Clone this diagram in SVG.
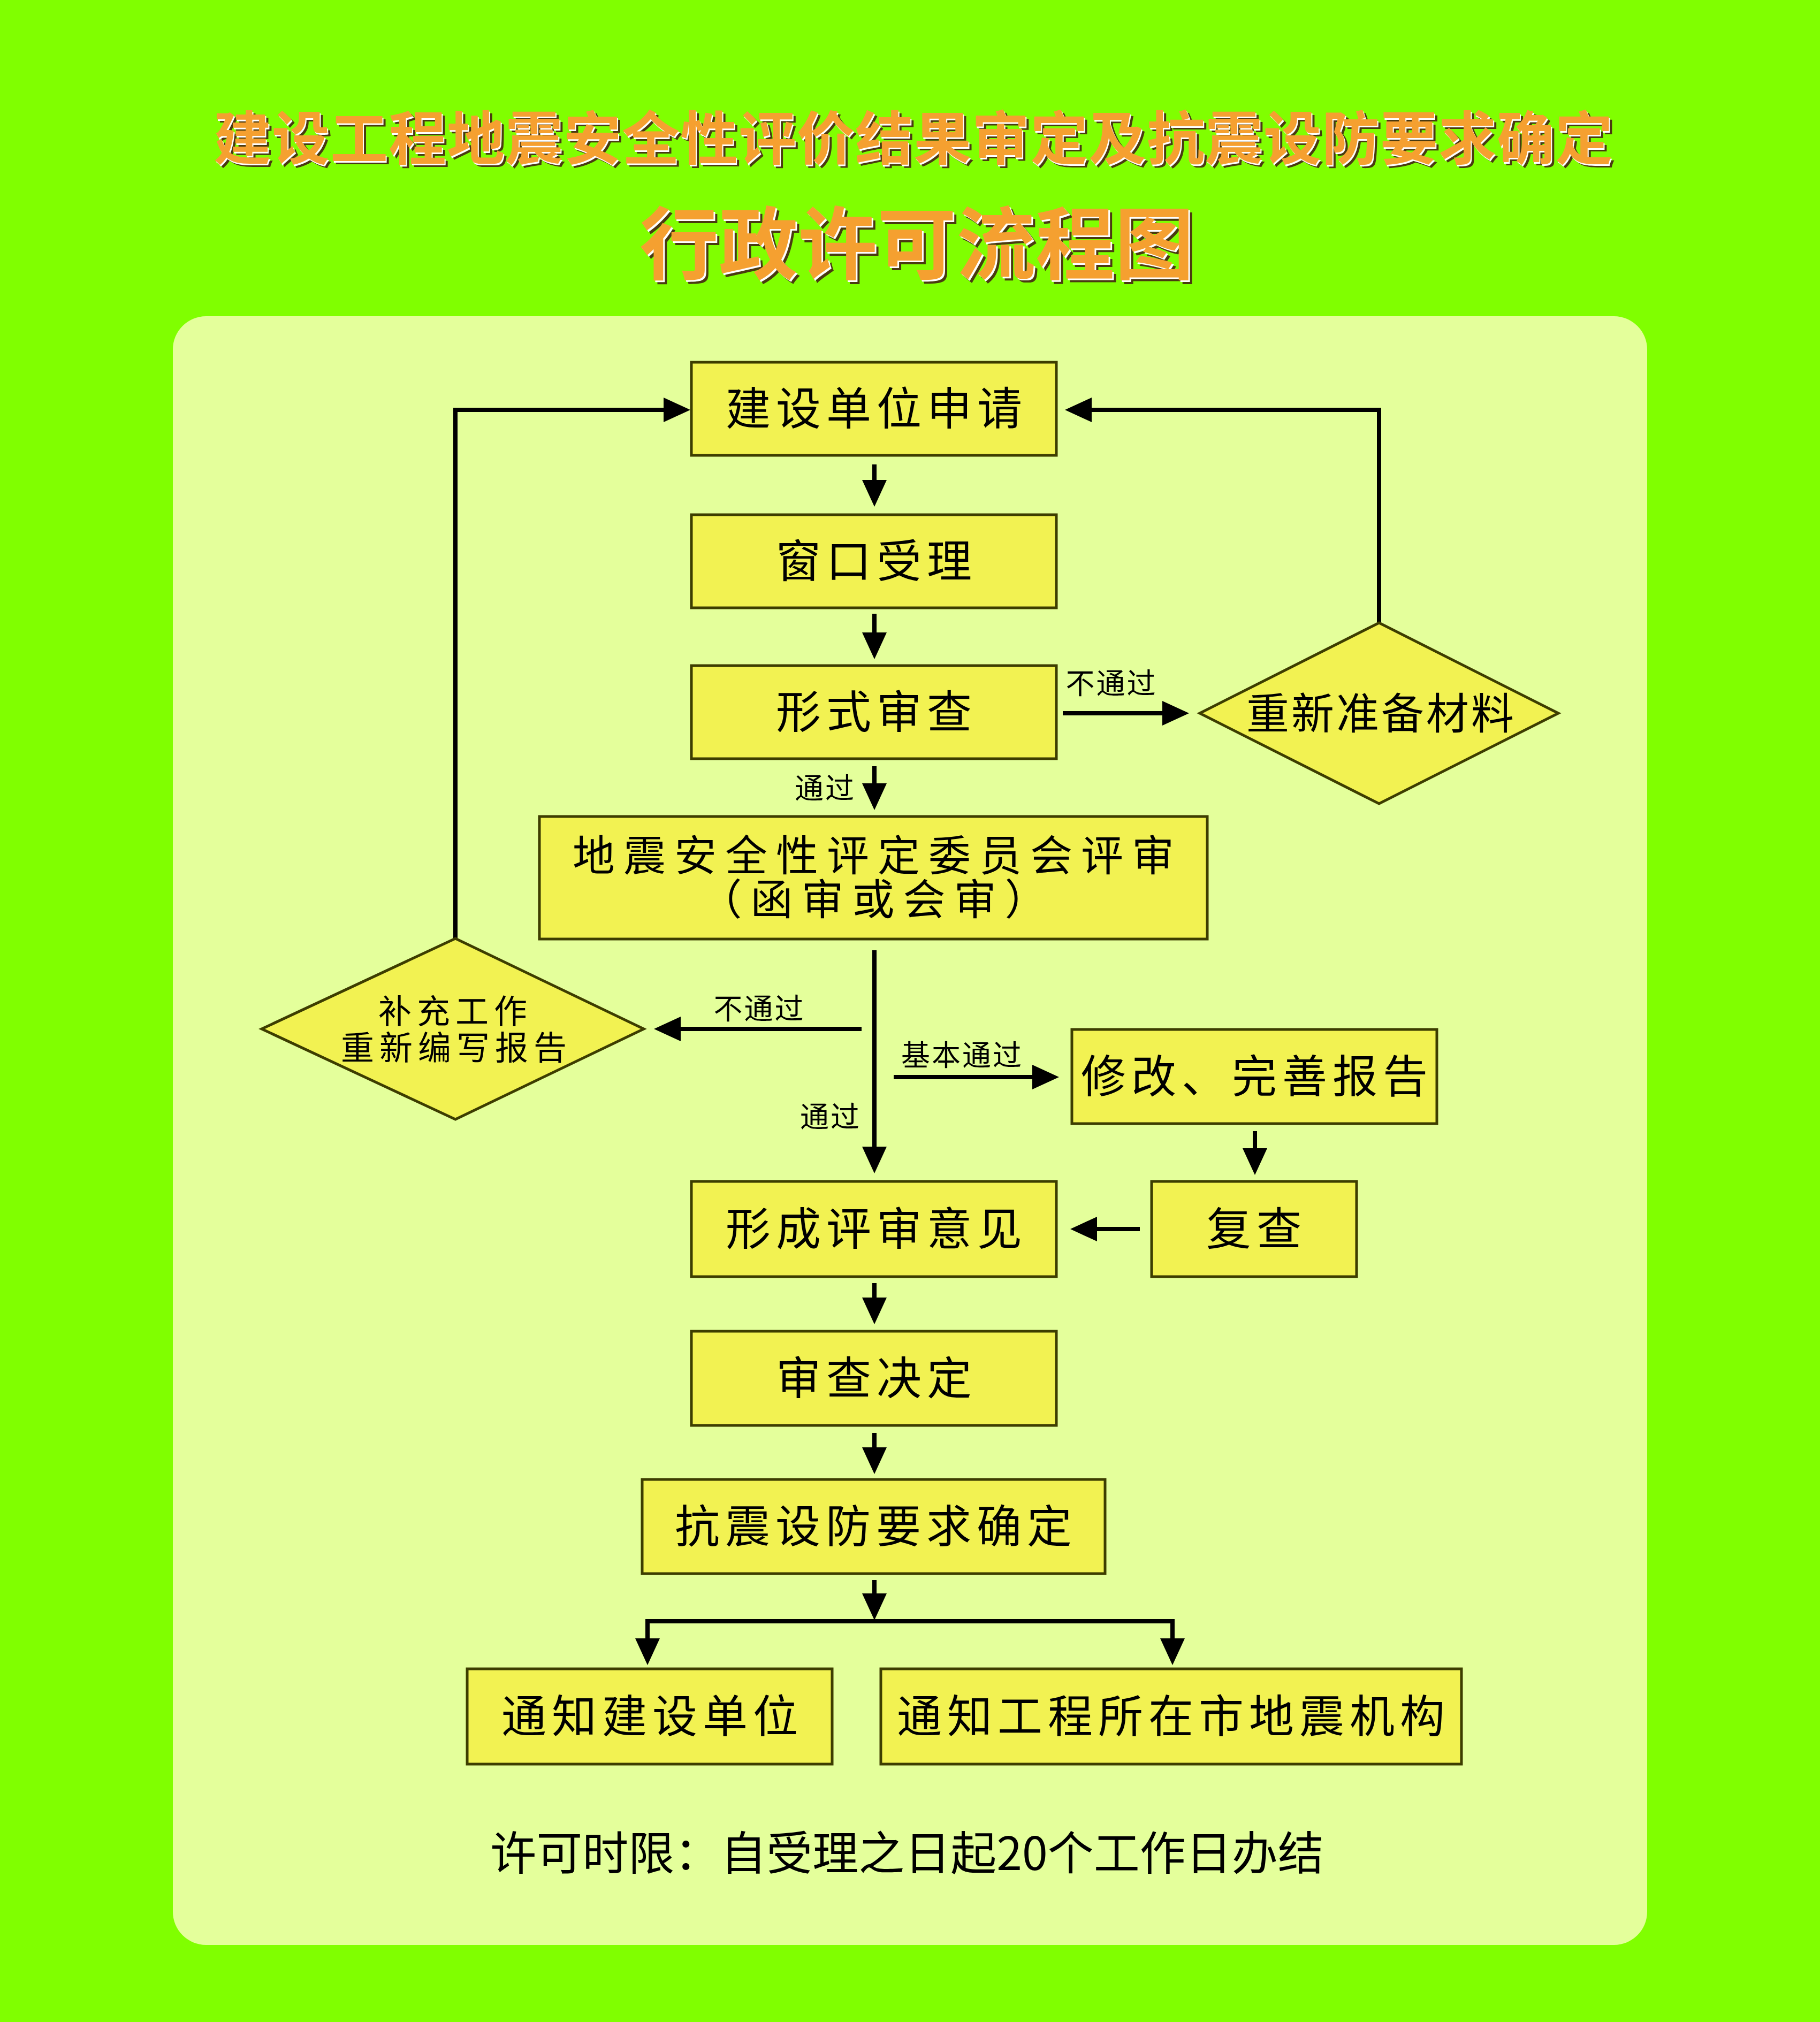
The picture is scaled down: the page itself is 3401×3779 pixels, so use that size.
<svg xmlns="http://www.w3.org/2000/svg" width="3401" height="3779" viewBox="0 0 3401 3779">
<style>
.bx{fill:#f2f252;stroke:#3d3d00;stroke-width:5}
.t{font-family:"Noto Sans CJK SC","Noto Sans",sans-serif;font-size:84px;letter-spacing:10px;text-anchor:middle;fill:#000}
.t2{font-family:"Noto Sans CJK SC","Noto Sans",sans-serif;font-size:79px;letter-spacing:16px;text-anchor:middle;fill:#000}
.dt{font-family:"Noto Sans CJK SC","Noto Sans",sans-serif;font-size:80px;letter-spacing:4px;text-anchor:middle;fill:#000}
.dt2{font-family:"Noto Sans CJK SC","Noto Sans",sans-serif;font-size:62px;letter-spacing:10px;text-anchor:middle;fill:#000}
.lb{font-family:"Noto Sans CJK SC","Noto Sans",sans-serif;font-size:54px;letter-spacing:3px;text-anchor:middle;fill:#000}
.ttl{font-family:"Noto Sans CJK SC","Noto Sans",sans-serif;font-weight:700;text-anchor:middle}
.c{fill:none;stroke:#000;stroke-width:8}
</style>
<defs>
<marker id="ah" viewBox="0 0 50 46" refX="5" refY="23" markerWidth="50" markerHeight="46" markerUnits="userSpaceOnUse" orient="auto">
<path d="M0,0 L50,23 L0,46 Z" fill="#000"/>
</marker>
</defs>
<rect x="0" y="0" width="3401" height="3779" fill="#80ff00"/>
<rect x="323" y="591" width="2755" height="3044" rx="62" ry="62" fill="#e4ff9b"/>
<g id="title">
<text class="ttl" x="1713" y="304" font-size="108" letter-spacing="1" fill="#4a3a10">建设工程地震安全性评价结果审定及抗震设防要求确定</text>
<text class="ttl" x="1709" y="301" font-size="108" letter-spacing="1" fill="#ffffff">建设工程地震安全性评价结果审定及抗震设防要求确定</text>
<text class="ttl" x="1707" y="298" font-size="108" letter-spacing="1" fill="#f5a030">建设工程地震安全性评价结果审定及抗震设防要求确定</text>
<text class="ttl" x="1720" y="517" font-size="148" fill="#4a3a10">行政许可流程图</text>
<text class="ttl" x="1716" y="513" font-size="148" fill="#ffffff">行政许可流程图</text>
<text class="ttl" x="1713" y="510" font-size="148" fill="#f5a030">行政许可流程图</text>
</g>
<g id="connectors">
<path class="c" d="M1634,868 V902" marker-end="url(#ah)"/>
<path class="c" d="M1634,1147 V1187" marker-end="url(#ah)"/>
<path class="c" d="M1634,1432 V1469" marker-end="url(#ah)"/>
<path class="c" d="M1986,1333 H2177" marker-end="url(#ah)"/>
<path class="c" d="M2577,1164 V766 H2035" marker-end="url(#ah)"/>
<path class="c" d="M1634,1776 V2148" marker-end="url(#ah)"/>
<path class="c" d="M1610,1923 H1267" marker-end="url(#ah)"/>
<path class="c" d="M1670,2013 H1934" marker-end="url(#ah)"/>
<path class="c" d="M851,1754 V766 H1245" marker-end="url(#ah)"/>
<path class="c" d="M2345,2114 V2151" marker-end="url(#ah)"/>
<path class="c" d="M2130,2297 H2045" marker-end="url(#ah)"/>
<path class="c" d="M1634,2398 V2430" marker-end="url(#ah)"/>
<path class="c" d="M1634,2678 V2710" marker-end="url(#ah)"/>
<path class="c" d="M1634,2953 V2983" marker-end="url(#ah)"/>
<path class="c" d="M1206,3030 H2195"/>
<path class="c" d="M1210,3030 V3067" marker-end="url(#ah)"/>
<path class="c" d="M2191,3030 V3067" marker-end="url(#ah)"/>
<text class="lb" x="2077" y="1297">不通过</text>
<text class="lb" x="1542" y="1493">通过</text>
<text class="lb" x="1419" y="1905">不通过</text>
<text class="lb" x="1798" y="1992">基本通过</text>
<text class="lb" x="1552" y="2107">通过</text>
</g>
<g id="n1"><rect class="bx" x="1292" y="677" width="682" height="174"/><text class="t" x="1638" y="794">建设单位申请</text></g>
<g id="n2"><rect class="bx" x="1292" y="962" width="682" height="174"/><text class="t" x="1638" y="1079">窗口受理</text></g>
<g id="n3"><rect class="bx" x="1292" y="1244" width="682" height="174"/><text class="t" x="1638" y="1361">形式审查</text></g>
<g id="d1"><polygon class="bx" points="2577,1164 2912,1333 2577,1502 2242,1333"/><text class="dt" x="2581" y="1362">重新准备材料</text></g>
<g id="n4"><rect class="bx" x="1008" y="1526" width="1248" height="229"/><text class="t2"><tspan x="1640" y="1628">地震安全性评定委员会评审</tspan><tspan x="1640" y="1710">（函审或会审）</tspan></text></g>
<g id="d2"><polygon class="bx" points="851,1754 1203,1923 851,2092 489,1923"/><text class="dt2"><tspan x="851" y="1913">补充工作</tspan><tspan x="853" y="1981">重新编写报告</tspan></text></g>
<g id="n5"><rect class="bx" x="2003" y="1924" width="682" height="176"/><text class="t" x="2349" y="2042">修改、完善报告</text></g>
<g id="n6"><rect class="bx" x="2152" y="2208" width="383" height="178"/><text class="t" x="2348" y="2327">复查</text></g>
<g id="n7"><rect class="bx" x="1292" y="2208" width="682" height="178"/><text class="t" x="1638" y="2327">形成评审意见</text></g>
<g id="n8"><rect class="bx" x="1292" y="2488" width="682" height="176"/><text class="t" x="1638" y="2606">审查决定</text></g>
<g id="n9"><rect class="bx" x="1200" y="2765" width="865" height="176"/><text class="t" x="1637" y="2883">抗震设防要求确定</text></g>
<g id="n10"><rect class="bx" x="873" y="3119" width="682" height="178"/><text class="t" x="1219" y="3238">通知建设单位</text></g>
<g id="n11"><rect class="bx" x="1646" y="3119" width="1085" height="178"/><text class="t" x="2193" y="3238">通知工程所在市地震机构</text></g>
<g id="note"><text x="1695" y="3495" font-family="Noto Sans CJK SC, Noto Sans, sans-serif" font-size="86" text-anchor="middle" fill="#000">许可时限：自受理之日起20个工作日办结</text></g>
</svg>
